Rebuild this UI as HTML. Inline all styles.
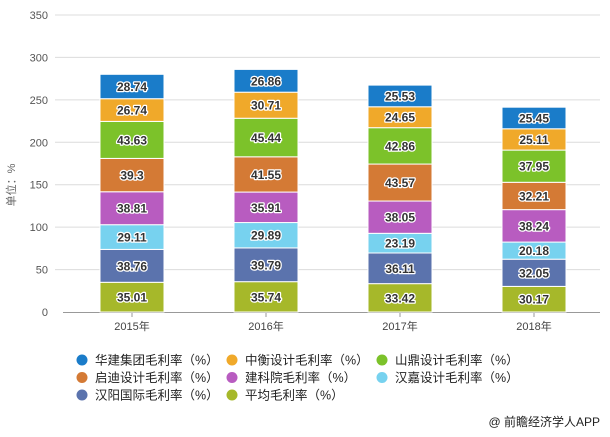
<!DOCTYPE html>
<html><head><meta charset="utf-8">
<style>
body{margin:0;background:#fff;width:610px;height:432px;overflow:hidden;font-family:"Liberation Sans","Noto Sans CJK SC",sans-serif;}
</style></head>
<body>
<svg id="c" width="610" height="432" xmlns="http://www.w3.org/2000/svg" font-family="Liberation Sans, Noto Sans CJK SC, sans-serif"></svg>
<script>
const s=document.getElementById('c');
const ns='http://www.w3.org/2000/svg';
function el(t,a,txt){const e=document.createElementNS(ns,t);for(const k in a)e.setAttribute(k,a[k]);if(txt!==undefined)e.textContent=txt;s.appendChild(e);return e;}
const y0=312,k=297/350;
for(let v=50;v<=350;v+=50){const y=y0-v*k;el('line',{x1:55,x2:600,y1:y,y2:y,stroke:'#dcdcdc','stroke-width':1});}
for(let v=0;v<=350;v+=50){el('text',{x:48,y:y0-v*k+4,'text-anchor':'end','font-size':11,fill:'#555'},v);}
el('line',{x1:63,x2:600,y1:y0+0.5,y2:y0+0.5,stroke:'#999'});
el('text',{x:0,y:0,'font-size':11,fill:'#666',transform:'translate(15,185) rotate(-90)','text-anchor':'middle'},'单位：%');
const colors=['#a6b82a','#5b73ad','#77d2ef','#b85cc0','#d47a35','#7cc22a','#f0a92a','#1a7cc9'];
const data=[[35.01,38.76,29.11,38.81,39.3,43.63,26.74,28.74],[35.74,39.79,29.89,35.91,41.55,45.44,30.71,26.86],[33.42,36.11,23.19,38.05,43.57,42.86,24.65,25.53],[30.17,32.05,20.18,38.24,32.21,37.95,25.11,25.45]];
const cx=[132,266,400,534],yrs=['2015年','2016年','2017年','2018年'];
data.forEach((d,i)=>{let acc=0;
 el('line',{x1:cx[i],x2:cx[i],y1:y0,y2:y0+5,stroke:'#999'});
 el('text',{x:cx[i],y:y0+18,'text-anchor':'middle','font-size':11,fill:'#444'},yrs[i]);
 d.forEach((v,j)=>{const yb=y0-acc*k,yt=y0-(acc+v)*k;acc+=v;
  el('rect',{x:cx[i]-32,y:yt,width:64,height:yb-yt,fill:colors[j],stroke:'#fff','stroke-width':1});
  el('text',{x:cx[i],y:(yt+yb)/2+4.5,'text-anchor':'middle','font-size':12,'font-weight':'bold',fill:'#333',stroke:'#fff','stroke-width':2.5,'paint-order':'stroke','stroke-linejoin':'round'},v);
 });
});
const leg=[['华建集团毛利率（%）',7],['中衡设计毛利率（%）',6],['山鼎设计毛利率（%）',5],['启迪设计毛利率（%）',4],['建科院毛利率（%）',3],['汉嘉设计毛利率（%）',2],['汉阳国际毛利率（%）',1],['平均毛利率（%）',0]];
leg.forEach((l,i)=>{const c=i%3,r=Math.floor(i/3);const x=82+c*150,y=360+r*17.5;
 el('circle',{cx:x,cy:y,r:5.5,fill:colors[l[1]]});
 el('text',{x:x+13,y:y+4.5,'font-size':12.5,fill:'#222'},l[0]);
});
el('text',{x:600,y:426,'text-anchor':'end','font-size':12,fill:'#222'},'@ 前瞻经济学人APP');
</script>
</body></html>
